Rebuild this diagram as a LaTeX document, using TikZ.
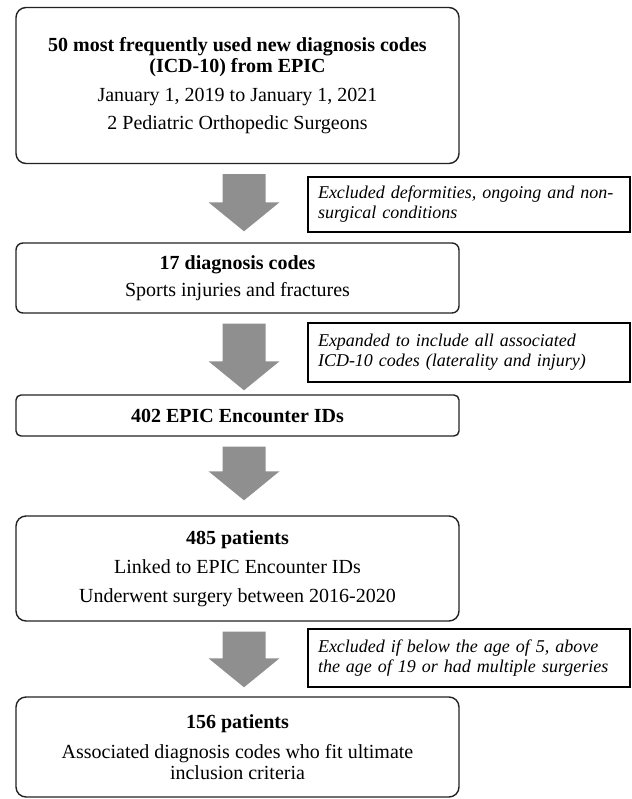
\documentclass[tikz,border=0pt]{standalone}
\usepackage{fontspec}
\setmainfont{Liberation Serif}
\usetikzlibrary{calc}

\definecolor{arrowgray}{RGB}{143,143,143}
\definecolor{boxline}{RGB}{34,34,34}

% grey block arrow from one box down to the next
\newcommand{\blockarrow}[3]{%
  \fill[arrowgray] let \p1=($(#1.south)+(6.5,10)$), \p2=($(#2.north)+(6.5,-#3)$) in
    (\x1-21.5pt,\y1) -- (\x1+21.5pt,\y1) -- (\x1+21.5pt,\y2+29pt) -- (\x1+35.5pt,\y2+29pt)
    -- (\x1,\y2) -- (\x1-35.5pt,\y2+29pt) -- (\x1-21.5pt,\y2+29pt) -- cycle;}

\begin{document}
\begin{tikzpicture}[x=1pt,y=-1pt,
    flowbox/.style={draw=boxline,line width=1.4pt,rounded corners=10pt,minimum width=443pt,
      align=center,inner sep=0pt,font={\fontsize{20}{21}\selectfont}},
    notebox/.style={draw=black,line width=1.2pt,text width=302pt,inner xsep=10pt,inner ysep=0pt,
      align=left,font={\fontsize{18}{20}\selectfont\itshape}}]
    \useasboundingbox (0,0) rectangle (631,799);

    \node[flowbox,minimum height=156pt] (codes50) at (237.5,85.5)
      {\textbf{50 most frequently used new diagnosis codes}\\ \textbf{(ICD-10) from EPIC}\\[8pt]
       January 1, 2019 to January 1, 2021\\[7pt] 2 Pediatric Orthopedic Surgeons};
    \node[flowbox,minimum height=70pt,rounded corners=7pt] (codes17) at (237.5,278)
      {\textbf{17 diagnosis codes}\\[6pt] Sports injuries and fractures};
    \node[flowbox,minimum height=41pt,rounded corners=5pt] (encounters) at (237.5,415.5)
      {\textbf{402 EPIC Encounter IDs}};
    \node[flowbox,minimum height=105pt] (patients485) at (237.5,568.5)
      {\textbf{485 patients}\\[8pt] Linked to EPIC Encounter IDs\\[8pt] Underwent surgery between 2016-2020};
    \node[flowbox,minimum height=100pt] (patients156) at (237.5,747)
      {\textbf{156 patients}\\[9pt] Associated diagnosis codes who fit ultimate\\ inclusion criteria};

    \node[notebox,minimum height=55pt] (excl1) at (469,204.5)
      {\mbox{Excluded deformities, ongoing and non-}\\ surgical conditions};
    \node[notebox,minimum height=59pt] (expand) at (469,352.5)
      {\mbox{Expanded to include all associated}\\ \mbox{ICD-10 codes (laterality and injury)}};
    \node[notebox,minimum height=58pt] (excl2) at (469,658)
      {\mbox{Excluded if below the age of 5, above}\\ \mbox{the age of 19 or had multiple surgeries}};

    \blockarrow{codes50}{codes17}{11}
    \blockarrow{codes17}{encounters}{4}
    \blockarrow{encounters}{patients485}{15}
    \blockarrow{patients485}{patients156}{9}
\end{tikzpicture}
\end{document}
